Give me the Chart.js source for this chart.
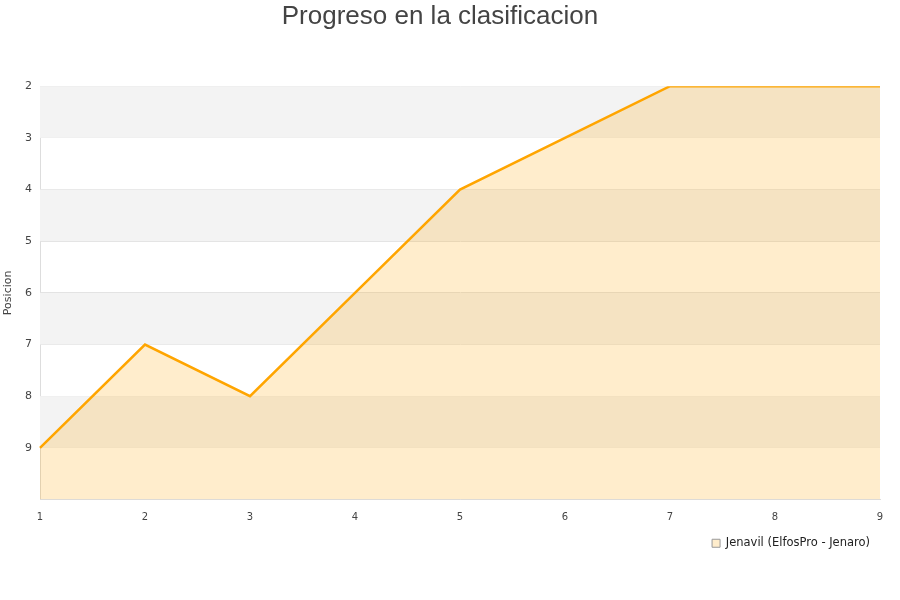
<!DOCTYPE html>
<html>
<head>
<meta charset="utf-8">
<script src="https://cdn.jsdelivr.net/npm/chart.js@4/dist/chart.umd.min.js"></script>
<style>
    html, body { margin: 0; padding: 0; background: #fff; }
    #wrap { width: 900px; height: 600px; }
</style>
</head>
<body>
<div id="wrap"><canvas id="progressChart" width="900" height="600"></canvas></div>
<script>
// datos
const jornadas = ['1', '2', '3', '4', '5', '6', '7', '8', '9'];
const posiciones = [9, 7, 8, 6, 4, 3, 2, 2, 2];
const serieNombre = 'Jenavil (ElfosPro - Jenaro)';

// bandas alternas de fondo
const bandsPlugin = {
    id: 'bands',
    beforeDatasetsDraw(chart) {
        const ctx = chart.ctx;
        const y = chart.scales.y;
        const area = chart.chartArea;
        ctx.save();
        for (let v = y.min; v < y.max; v++) {
            if ((v - y.min) % 2 === 0) {
                const top = y.getPixelForValue(v);
                const bottom = y.getPixelForValue(v + 1);
                ctx.fillStyle = '#f3f3f3';
                ctx.fillRect(area.left, top, area.right - area.left, bottom - top);
            }
        }
        ctx.restore();
    }
};

const ctx = document.getElementById('progressChart').getContext('2d');
new Chart(ctx, {
    type: 'line',
    data: {
        labels: jornadas,
        datasets: [{
            label: serieNombre,
            data: posiciones,
            borderColor: 'orange',
            backgroundColor: 'rgba(255, 165, 0, 0.2)',
            borderWidth: 2.5,
            pointRadius: 0,
            tension: 0,
            fill: { value: 10 }
        }]
    },
    options: {
        responsive: false,
        animation: false,
        layout: { padding: { left: 0, right: 20, top: 0, bottom: 41 } },
        plugins: {
            title: {
                display: true,
                text: 'Progreso en la clasificacion',
                color: '#444',
                font: { family: 'Liberation Sans', size: 26, weight: 'normal' },
                padding: { top: 1, bottom: 54 }
            },
            legend: {
                position: 'bottom',
                align: 'end',
                labels: {
                    boxWidth: 8,
                    boxHeight: 8,
                    color: '#222',
                    font: { family: 'DejaVu Sans', size: 11.5 },
                    padding: 10,
                    generateLabels(chart) {
                        const items = Chart.defaults.plugins.legend.labels.generateLabels(chart);
                        items.forEach(it => { it.strokeStyle = '#999'; it.lineWidth = 1; it.fillStyle = 'rgba(255, 165, 0, 0.2)'; });
                        return items;
                    }
                }
            },
            tooltip: { enabled: false }
        },
        scales: {
            x: {
                offset: false,
                grid: { display: false },
                border: { color: '#ddd' },
                ticks: { color: '#444', font: { family: 'DejaVu Sans', size: 10 }, maxRotation: 0, padding: 4 }
            },
            y: {
                reverse: true,
                min: 2,
                max: 10,
                afterFit(scale) { scale.width = 40; },
                grid: { color: '#e0e0e0', drawTicks: false },
                border: { color: '#ddd' },
                title: {
                    display: true,
                    text: 'Posicion',
                    color: '#444',
                    font: { family: 'DejaVu Sans', size: 11 },
                    padding: { top: 2, bottom: 0 }
                },
                ticks: {
                    stepSize: 1,
                    color: '#444',
                    font: { family: 'DejaVu Sans', size: 11 },
                    padding: 8,
                    callback: function(v) { return v === 10 ? '' : v; }
                }
            }
        }
    },
    plugins: [bandsPlugin]
});
</script>
</body>
</html>
